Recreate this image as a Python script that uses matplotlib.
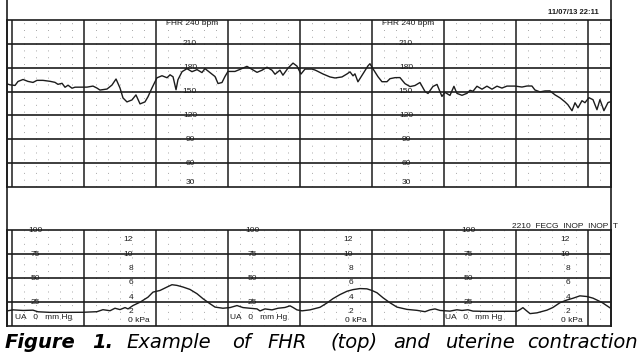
import matplotlib

matplotlib.use("Agg")

import matplotlib.pyplot as plt
from matplotlib.lines import Line2D

W, H = 640, 356
INK = "#1c1c1c"
LABEL_FONT = "Liberation Sans"

# FHR trace, seconds from the first minute line, beats per minute
fhr_time_s = [
    -4.2, -1.7, 2.5, 5.0, 9.2, 13.3, 17.5, 20.8, 25.8, 31.7, 35.8, 38.3, 41.7, 44.2, 46.7,
    50.0, 52.5, 56.7, 62.5, 67.5, 70.8, 73.3, 79.2, 83.3, 86.7, 90.0, 92.5, 95.8, 100.0,
    103.3, 106.7, 110.8, 113.3, 116.7, 120.8,
    125.0, 129.2, 131.7, 134.2, 136.7, 138.3, 141.7, 145.8, 150.0, 154.2, 158.3, 160.8,
    165.0, 169.2, 171.7, 175.0, 177.5, 180.0, 185.8, 190.0, 195.8, 200.0, 204.2, 208.3,
    212.5, 216.7, 219.2, 223.3, 225.8, 230.0, 234.2, 237.5, 240.8, 244.2, 250.0, 252.5,
    254.2, 259.2, 265.0, 269.2, 275.0, 279.2, 281.7, 284.2, 285.8, 288.3, 292.5, 296.7,
    298.3, 300.8, 305.0, 308.3, 312.5, 315.0, 319.2, 323.3, 327.5, 331.7, 335.8, 340.0,
    344.2, 346.7, 350.8, 354.2, 358.3, 360.8, 365.0, 368.3, 370.8, 375.0, 379.2,
    381.7, 384.2, 387.5, 391.7, 395.8, 400.0, 404.2, 408.3, 412.5, 419.2, 425.0, 429.2,
    433.3, 435.8, 440.0, 444.2, 448.3, 452.5, 456.7, 460.8, 463.3, 466.7, 469.2, 471.7,
    475.0, 477.5, 480.8, 484.2, 487.5, 490.0, 493.3, 496.7, 499.2,
]
fhr_bpm = [
    159.7, 158.5, 157.7, 162.7, 165.2, 162.8, 161.5, 164.1, 164.1, 162.9, 161.6, 159.1, 160.4,
    155.4, 158.0, 154.2, 155.5, 155.5, 155.6, 156.9, 154.4, 151.9, 153.2, 158.2, 165.8, 154.5,
    142.0, 137.0, 139.5, 145.8, 134.5, 137.0, 143.4, 154.7, 167.3,
    169.9, 167.4, 171.1, 168.6, 152.3, 164.9, 175.0, 178.8, 175.0, 177.6, 173.9, 178.9,
    173.9, 168.9, 160.1, 161.4, 169.0, 175.3, 175.3, 177.9, 181.7, 177.9, 174.2, 176.8,
    180.6, 176.8, 171.8, 176.9, 170.6, 179.5, 185.8, 182.0, 172.0, 178.3, 178.3, 177.1,
    175.9, 172.1, 168.4, 167.1, 168.4, 172.2, 174.8, 169.8, 172.3, 162.3, 172.4, 182.4,
    185.0, 178.7, 168.7, 162.4, 162.4, 166.2, 167.5, 167.6, 160.0, 156.3, 157.6, 161.4,
    150.1, 147.6, 156.4, 159.0, 143.9, 149.0, 145.2, 156.6, 147.7, 145.3, 147.8,
    151.6, 150.4, 156.7, 153.0, 156.8, 153.0, 156.8, 154.4, 156.9, 156.9, 155.7, 157.0,
    157.0, 152.0, 149.6, 150.8, 150.9, 145.9, 142.1, 137.1, 133.4, 125.9, 135.9, 129.6,
    138.5, 136.0, 142.3, 139.8, 127.2, 139.9, 126.0, 136.2, 137.4,
]

# uterine activity trace, mmHg
ua_time_s = [
    -4.2, 0.8, 9.2, 17.5, 21.7, 31.7, 45.8, 59.2, 70.8, 75.8, 81.7, 85.8, 90.0, 94.2, 96.7,
    100.8, 106.7, 113.3, 117.5, 123.3, 129.2, 133.3, 137.5, 142.5, 148.3, 154.2, 159.2,
    165.0, 169.2,
    175.8, 181.7, 187.5, 192.5, 198.3, 204.2, 206.7, 210.8, 216.7, 221.7, 227.5, 231.7,
    234.2, 237.5, 241.7, 248.3, 256.7, 262.5, 267.5, 273.3, 279.2, 284.2, 290.0, 295.8,
    300.0, 304.2, 309.2, 315.0, 320.8, 329.2, 337.5, 344.2,
    348.3, 352.5, 356.7, 365.0, 370.8, 375.0, 380.0, 384.2, 395.8, 409.2, 420.8, 423.3,
    425.8, 428.3, 431.7, 437.5, 445.8, 450.8, 456.7, 462.5, 467.5, 473.3, 479.2, 484.2,
    491.7, 498.3,
]
ua_mmhg = [
    15.7, 16.8, 16.2, 16.5, 14.8, 14.2, 14.2, 14.3, 14.9, 17.0, 15.9, 18.5, 17.1, 19.2, 17.8,
    21.3, 24.8, 30.0, 35.3, 37.0, 40.6, 43.0, 42.3, 40.6, 38.1, 33.6, 28.4, 23.2, 19.7,
    18.5, 19.2, 21.3, 19.2, 18.5, 17.8, 15.7, 17.8, 16.8, 18.5, 19.3, 21.0, 19.3, 16.8,
    15.8, 16.8, 19.5, 24.0, 28.5, 32.7, 36.2, 37.9, 39.0, 38.7, 37.0, 34.6, 29.4, 24.2,
    19.7, 17.3, 16.3, 14.9,
    16.8, 17.8, 16.2, 15.5, 16.9, 16.2, 16.9, 15.5, 15.2, 15.3, 15.3, 17.0, 19.1, 16.4,
    12.9, 13.7, 16.5, 19.3, 24.3, 27.1, 28.9, 31.4, 30.7, 29.0, 24.5, 19.0,
]

time_range_s = (-4.17, 499.2)
minute_lines_s = [0, 60, 120, 180, 240, 300, 360, 420, 480]
fhr_range = (30, 240)
fhr_lines = [60, 90, 120, 150, 180, 210]
fhr_label_times = [148.3, 328.3]
fhr_header_times = [128.3, 308.3]
ua_range = (0, 100)
ua_lines = [25, 50, 75]
ua_label_values = [100, 75, 50, 25]
ua_label_times = [19.2, 200.0, 380.0]
ua_unit_times = [2.5, 181.7, 360.8]
kpa_values = [2, 4, 6, 8, 10, 12]
kpa_label_times = [100.8, 284.2, 465.0]
kpa_unit_times = [96.7, 277.5, 457.5]

caption_words = [
    ("Figure", 5, "bold"), ("1.", 92, "bold"), ("Example", 126, "normal"),
    ("of", 232, "normal"), ("FHR", 267, "normal"), ("(top)", 330, "normal"),
    ("and", 393, "normal"), ("uterine", 446, "normal"), ("contraction", 527, "normal"),
]


def _grid(axis, yvals):
    for sec in range(10, 500, 10):
        if sec % 60:
            axis.axvline(sec, color="#a8a8a8", lw=0.7, ls=(0, (1, 6)), zorder=1)
    for sec in minute_lines_s:
        axis.axvline(sec, color=INK, lw=1.1, zorder=2)
    for val in yvals:
        axis.axhline(val, color=INK, lw=1.2, zorder=2)
    axis.set_xticks([])
    axis.set_yticks([])
    for spine in axis.spines.values():
        spine.set_color(INK)
        spine.set_linewidth(1.2)


def _label(axis, x, y, text, ha="center"):
    axis.text(x, y, text, ha=ha, va="center", fontsize=6, family=LABEL_FONT,
              color=INK, zorder=3)


fig = plt.figure(figsize=(W / 100, H / 100), dpi=100)

ax_fhr = fig.add_axes([7 / W, 1 - 187 / H, 604 / W, 167 / H])
ax_fhr.set_xlim(*time_range_s)
ax_fhr.set_ylim(*fhr_range)
_grid(ax_fhr, fhr_lines)
ax_fhr.plot(fhr_time_s, fhr_bpm, color=INK, lw=1.0, zorder=4)
for t in fhr_header_times:
    _label(ax_fhr, t, 235, "FHR 240 bpm", ha="left")
for t in fhr_label_times:
    for val in fhr_lines[::-1]:
        _label(ax_fhr, t, val, str(val))
    _label(ax_fhr, t, 36, "30")

ax_ua = fig.add_axes([7 / W, 1 - 326 / H, 604 / W, 96 / H])
ax_ua.set_xlim(*time_range_s)
ax_ua.set_ylim(*ua_range)
_grid(ax_ua, ua_lines)
ax_ua.plot(ua_time_s, ua_mmhg, color=INK, lw=1.0, zorder=4)
for t in ua_label_times:
    for val in ua_label_values:
        _label(ax_ua, t, val, str(val))
for t in ua_unit_times:
    _label(ax_ua, t, 9, "UA   0   mm Hg", ha="left")
for t in kpa_label_times:
    for k in kpa_values:
        _label(ax_ua, t, k * 7.5, str(k), ha="right")
for t in kpa_unit_times:
    _label(ax_ua, t, 6, "0 kPa", ha="left")
_label(ax_ua, 417, 103.5, "2210  FECG  INOP  INOP  T", ha="left")

fig.text(548 / W, 1 - 13 / H, "11/07/13 22:11", ha="left", va="center",
         fontsize=5.5, family=LABEL_FONT, weight="bold", color=INK)

# outer frame of the scanned strip
for xpx in (7, 611):
    fig.add_artist(Line2D([xpx / W, xpx / W], [1 - 326 / H, 1], color=INK, lw=1.2))

for word, left, weight in caption_words:
    fig.text(left / W, 1 - 348 / H, word, ha="left", va="baseline", fontsize=14,
             family="DejaVu Sans", style="italic", weight=weight, color="black")

fig.savefig("out.png", dpi=100, facecolor="white")
plt.close(fig)
